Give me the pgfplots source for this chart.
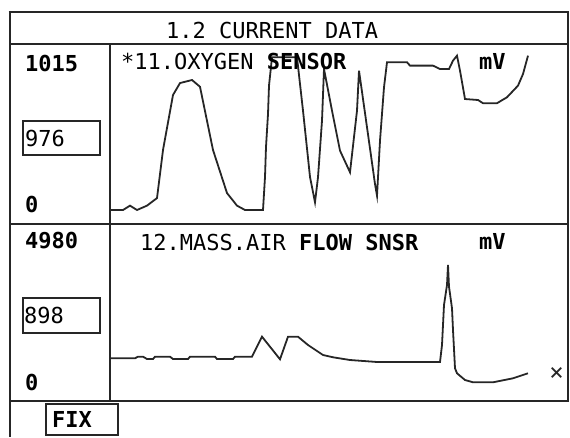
\documentclass[border=0pt]{standalone}
\usepackage{fontspec}
\usepackage{pgfplots}
\pgfplotsset{compat=1.18}
\newfontfamily\lcd{DejaVu Sans Mono}
\newcommand{\lcdfont}{\lcd\fontsize{22}{22}\selectfont}

% oxygen sensor trace, x = sample, y = mV
\pgfplotstableread{
x y
0 62
13 62
20 89
27 62
37 89
47 136
53 434
63 775
70 849
82 868
90 826
103 434
117 167
127 89
135 62
153 62
155 267
156 453
158 657
159 833
162 1009
187 1009
193 678
200 267
205 110
208 265
212 616
214 936
222 678
230 430
240 296
247 678
249 926
257 575
265 223
267 151
270 492
274 823
277 978
297 978
300 957
323 957
330 936
339 936
343 988
347 1019
350 926
355 750
368 744
373 724
387 724
397 761
408 833
413 905
418 1019
}\oxygen

% mass air flow trace
\pgfplotstableread{
x y
0 943
25 943
28 983
33 983
37 925
43 925
45 983
60 983
63 925
78 925
80 983
105 983
107 925
123 925
125 983
142 983
152 1483
170 918
178 1483
188 1483
198 1275
213 1025
223 968
240 900
267 850
330 850
332 1275
334 2275
337 2775
338 3275
339 2733
342 2193
343 1650
345 693
347 568
355 400
363 343
383 343
403 443
418 568
}\maf

\begin{document}
\begin{tikzpicture}[x=1pt,y=1pt]
\useasboundingbox (0,0) rectangle (570,437);

% frame
\draw[line width=2.6pt, black!85] (8.7,425) -- (569,425);
\draw[line width=2.6pt, black!85] (10,426) -- (10,0);
\draw[line width=2.2pt, black!85] (568,425) -- (568,35);
\draw[line width=2pt, black!85] (10,393) -- (569,393);
\draw[line width=2pt, black!85] (10,213) -- (569,213);
\draw[line width=2pt, black!85] (10,36) -- (569,36);
\draw[line width=1.4pt, black!85] (110,393) -- (110,36);

% value boxes
\draw[line width=1.4pt, black!85] (23,282) rectangle (100,316);
\draw[line width=1.4pt, black!85] (23,104) rectangle (100,139);
\draw[line width=1.4pt, black!85] (46,2) rectangle (118,33);

\begin{axis}[
  at={(110pt,213pt)}, anchor=south west,
  scale only axis, width=458pt, height=180pt,
  xmin=0, xmax=458, ymin=-24.8, ymax=1091.2,
  hide axis, clip=false
]
\addplot[black!85, line width=1.8pt] table[x=x, y=y] {\oxygen};
\end{axis}

\begin{axis}[
  at={(110pt,36pt)}, anchor=south west,
  scale only axis, width=458pt, height=177pt,
  xmin=0, xmax=458, ymin=-125, ymax=4300,
  hide axis, clip=false
]
\addplot[black!85, line width=1.8pt] table[x=x, y=y] {\maf};
\end{axis}

% texts
\begin{scope}[every node/.style={inner sep=0pt, anchor=base west, text=black}]
\node at (166,398.5) {\lcdfont 1.2 CURRENT DATA};
\node at (25,365.5) {\lcdfont\bfseries 1015};
\node at (25,290.3) {\lcdfont 976};
\node at (25,225) {\lcdfont\bfseries 0};
\node at (121,367) {\lcdfont *11.OXYGEN \bfseries SENSOR};
\node at (479,367) {\lcdfont\bfseries mV};
\node at (25,188.7) {\lcdfont\bfseries 4980};
\node at (24,113.7) {\lcdfont 898};
\node at (25,47) {\lcdfont\bfseries 0};
\node at (140,187) {\lcdfont 12.MASS.AIR \bfseries FLOW SNSR};
\node at (479,188) {\lcdfont\bfseries mV};
\node at (52,10) {\lcdfont\bfseries FIX};
\end{scope}
\node[inner sep=0pt, text=black!85] at (556.7,63) {\lcd\fontsize{24}{24}\selectfont ×};
\end{tikzpicture}
\end{document}
